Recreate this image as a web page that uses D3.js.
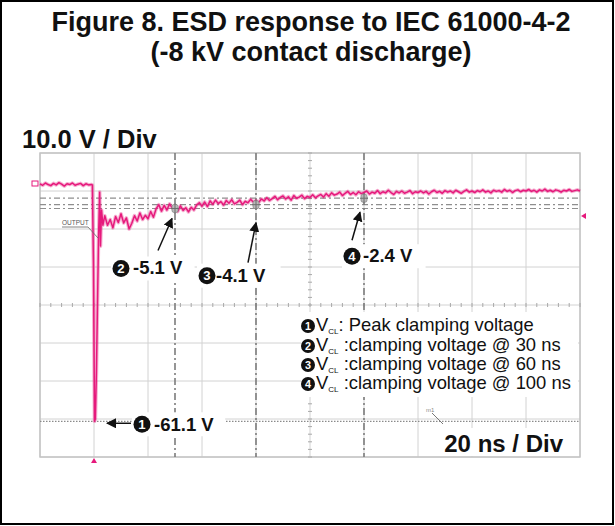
<!DOCTYPE html>
<html><head><meta charset="utf-8">
<script src="https://cdn.jsdelivr.net/npm/d3@7"></script>
<style>body{margin:0;background:#fff} svg{display:block}</style>
</head><body><svg id="c" width="615" height="526"></svg>
<script>
// ---------- data ----------
const titleLines = ["Figure 8. ESD response to IEC 61000-4-2", "(-8 kV contact discharge)"];
const voltsPerDivLabel = "10.0 V / Div";
const timePerDivLabel = "20 ns / Div";
const timeDomainNs = [-20, 180];      // 10 divisions x 20 ns
const voltDomain = [-70.5, 9.5];      // 8 divisions x 10 V
const xDivisions = 10;
const yDivisions = 8;

const preSpikeStartNs = -20;          // 1 ns spacing
const preSpikeV = [1.4, 1.0, 1.6, 1.2, 0.9, 1.5, 1.1, 1.7, 1.3, 0.8,
                   1.4, 1.2, 1.6, 1.0, 1.3, 1.5, 0.9, 1.4, 1.1, 1.2];

const spikeNs = [-0.6, -0.2, 0.2, 0.5, 0.9, 1.3, 1.7, 2.1, 2.4, 2.8, 3.3];
const spikeV  = [1.1, -20, -61.1, -60.5, -48, -30, -12, -0.8, -15, -5.5, -9.5];

const postSpikeStartNs = 4;           // 1 ns spacing, 4 .. 180 ns
const postSpikeV = [
  -7.0,-9.5,-8.0,-10.2,-7.2,-8.8,-6.5,-8.9,-7.6,-10.5,-9.0,-7.0,-8.4,-6.3,-8.0,-6.9,-7.8,
  -5.9,-7.4,-5.2,-4.1,-5.8,-4.3,-5.5,-3.9,-5.0,-4.6,-5.9,-4.4,-5.6,-4.9,-6.0,-4.8,-5.5,-4.2,-3.6,-4.5,
  -3.4,-4.6,-3.1,-4.0,-2.9,-3.8,-3.3,-4.2,-3.0,-3.7,-2.8,-3.9,-3.5,-2.9,-4.1,-3.2,-3.6,-2.7,-3.4,-3.0,
  -3.5,-2.6,-3.1,-2.3,-3.0,-2.5,-1.9,-2.8,-2.2,-1.8,-2.6,-2.0,-2.9,-1.7,-2.4,-2.1,-1.6,-2.5,-1.9,-2.2,
  -1.5,-2.3,-1.8,-1.4,-2.1,-1.2,-1.9,-1.0,-1.6,-1.3,-0.8,-1.7,-1.1,-0.6,-1.4,-0.9,-1.5,-0.7,-1.2,-0.9,
  -0.5,-1.3,-0.8,-1.1,-0.4,-1.2,-0.7,-1.0,-0.3,-0.9,-1.4,-0.6,-1.0,-0.5,-1.1,-0.8,-0.4,-1.2,-0.7,-0.9,
  -0.5,-1.0,-0.6,-1.3,-0.7,-0.3,-0.9,-0.6,-1.1,-0.4,-0.8,-0.5,-1.0,-0.3,-0.7,-1.1,-0.6,-0.2,-0.8,-0.5,
  -0.9,-0.4,-0.7,-0.2,-0.8,-0.5,-1.0,-0.3,-0.6,-0.4,-0.8,-0.1,-0.6,-0.3,-0.9,-0.4,-0.2,-0.7,-0.3,-0.5,
  -0.1,-0.6,-0.3,-0.8,-0.2,-0.5,0.0,-0.6,-0.3,-0.7,-0.2,-0.4,-0.8,-0.3,-0.5,-0.1,-0.6,-0.4,-0.2,-0.5
];

const cursorIds = [1, 2, 3, 4];
const cursorNs = [0, 30, 60, 100];
const cursorV = [-61.1, -5.1, -4.1, -2.4];
const cursorText = ["-61.1 V", "-5.1 V", "-4.1 V", "-2.4 V"];
const legendMain = "V";
const legendSub = "CL";
const legendRest = [": Peak clamping voltage", " :clamping voltage @ 30 ns",
                    " :clamping voltage @ 60 ns", " :clamping voltage @ 100 ns"];

// ---------- build ----------
const FONT = "Arial, 'Liberation Sans', Helvetica, sans-serif";
const PINK = "#e6197c";
const svg = d3.select("#c");
const plot = {l: 40, r: 580, t: 153, b: 457};

const x = d3.scaleLinear().domain(timeDomainNs).range([plot.l, plot.r]);
const y = d3.scaleLinear().domain(voltDomain).range([plot.b, plot.t]);
const xDiv = d3.scaleLinear().domain([0, xDivisions]).range([plot.l, plot.r]);
const yDiv = d3.scaleLinear().domain([0, yDivisions]).range([plot.t, plot.b]);

// outer frame
svg.append("rect").attr("x", 1).attr("y", 1).attr("width", 612).attr("height", 523)
  .attr("fill", "#fff").attr("stroke", "#000").attr("stroke-width", 2);

// title
svg.append("g").selectAll("text").data(titleLines).join("text")
  .attr("x", 311).attr("y", (d, i) => 31 + i * 30)
  .attr("text-anchor", "middle").attr("font-family", FONT)
  .attr("font-weight", "bold").attr("font-size", 27).attr("fill", "#111").text(d => d);

svg.append("text").attr("x", 22).attr("y", 148).attr("font-family", FONT)
  .attr("font-weight", "bold").attr("font-size", 25.5).attr("fill", "#111").text(voltsPerDivLabel);

// grid
const grid = svg.append("g");
grid.selectAll(".vx").data(d3.range(0, xDivisions + 1)).join("line")
  .attr("x1", d => xDiv(d)).attr("x2", d => xDiv(d)).attr("y1", plot.t).attr("y2", plot.b)
  .attr("stroke", "#d2d2d2").attr("stroke-width", 1);
grid.selectAll(".hy").data(d3.range(0, yDivisions + 1)).join("line")
  .attr("y1", d => yDiv(d)).attr("y2", d => yDiv(d)).attr("x1", plot.l).attr("x2", plot.r)
  .attr("stroke", "#d2d2d2").attr("stroke-width", 1);
grid.append("rect").attr("x", plot.l).attr("y", plot.t).attr("width", plot.r - plot.l)
  .attr("height", plot.b - plot.t).attr("fill", "none").attr("stroke", "#c4c4c4").attr("stroke-width", 1.5);

// center minor ticks
const cx = xDiv(xDivisions / 2), cy = yDiv(yDivisions / 2);
grid.selectAll(".tx").data(d3.range(0, xDivisions * 5 + 1)).join("line")
  .attr("x1", d => xDiv(d / 5)).attr("x2", d => xDiv(d / 5)).attr("y1", cy - 2).attr("y2", cy + 2)
  .attr("stroke", "#a8a8a8").attr("stroke-width", 1);
grid.selectAll(".ty").data(d3.range(0, yDivisions * 5 + 1)).join("line")
  .attr("y1", d => yDiv(d / 5)).attr("y2", d => yDiv(d / 5)).attr("x1", cx - 2).attr("x2", cx + 2)
  .attr("stroke", "#a8a8a8").attr("stroke-width", 1);

// cursors
const cur = svg.append("g");
cur.selectAll(".hc").data(cursorV.slice(1)).join("line")
  .attr("x1", plot.l).attr("x2", plot.r).attr("y1", d => y(d)).attr("y2", d => y(d))
  .attr("stroke", "#8e8e8e").attr("stroke-width", 1.2).attr("stroke-dasharray", "6,3,2,3");
cur.append("line").attr("x1", plot.l).attr("x2", plot.r).attr("y1", y(cursorV[0])).attr("y2", y(cursorV[0]))
  .attr("stroke", "#8a8a8a").attr("stroke-width", 1.2).attr("stroke-dasharray", "1.5,1.5");
cur.selectAll(".vc").data(cursorNs.slice(1)).join("line")
  .attr("x1", d => x(d)).attr("x2", d => x(d)).attr("y1", plot.t).attr("y2", plot.b)
  .attr("stroke", "#7c7c7c").attr("stroke-width", 1.6).attr("stroke-dasharray", "7,3,2,3");

// trace
const trace = [];
preSpikeV.forEach((v, i) => trace.push([preSpikeStartNs + i, v]));
spikeNs.forEach((t, i) => trace.push([t, spikeV[i]]));
postSpikeV.forEach((v, i) => trace.push([postSpikeStartNs + i, v]));
const line = d3.line().x(d => x(d[0])).y(d => y(d[1]));
svg.append("path").attr("d", line(trace)).attr("fill", "none").attr("stroke", PINK)
  .attr("stroke-width", 3.6).attr("stroke-opacity", 0.35).attr("stroke-linejoin", "round");
svg.append("path").attr("d", line(trace)).attr("fill", "none").attr("stroke", PINK)
  .attr("stroke-width", 1.5).attr("stroke-linejoin", "round");

// cursor intersection markers
svg.selectAll(".mk").data(cursorNs.slice(1).map((t, i) => [t, cursorV[i + 1]])).join("g")
  .attr("transform", d => `translate(${x(d[0])},${y(d[1])})`)
  .each(function () {
    const g = d3.select(this);
    g.append("rect").attr("x", -3).attr("y", -4).attr("width", 6).attr("height", 8).attr("rx", 2)
      .attr("fill", "#b9b9b9").attr("stroke", "#8a8a8a").attr("stroke-width", 0.8);
    g.append("line").attr("x1", -4).attr("x2", 4).attr("stroke", "#6e6e6e");
    g.append("line").attr("y1", -5).attr("y2", 5).attr("stroke", "#6e6e6e");
  });

// channel / trigger markers
svg.append("rect").attr("x", 32).attr("y", 181).attr("width", 6).attr("height", 5)
  .attr("fill", "none").attr("stroke", PINK).attr("stroke-width", 1);
svg.append("path").attr("d", `M${x(0)},${plot.b + 1} l-3,5 h6 z`).attr("fill", PINK);
svg.append("path").attr("d", `M${plot.r + 1},216 l5,-3 v6 z`).attr("fill", PINK);

// OUTPUT tag
svg.append("text").attr("x", 62).attr("y", 225).attr("font-family", FONT).attr("font-size", 6.5)
  .attr("fill", "#555").text("OUTPUT");
svg.append("path").attr("d", "M62,227 H88 L98,238").attr("fill", "none").attr("stroke", "#666").attr("stroke-width", 0.8);
svg.append("text").attr("x", 426).attr("y", 412).attr("font-family", FONT).attr("font-size", 6)
  .attr("fill", "#888").text("m1");
svg.append("path").attr("d", "M432,413 L443,424").attr("fill", "none").attr("stroke", "#777").attr("stroke-width", 1);

// arrow marker
svg.append("defs").append("marker").attr("id", "ah").attr("viewBox", "0 0 10 10")
  .attr("refX", 9).attr("refY", 5).attr("markerWidth", 10).attr("markerHeight", 10)
  .attr("markerUnits", "userSpaceOnUse").attr("orient", "auto")
  .append("path").attr("d", "M0,0 L10,5 L0,10 z").attr("fill", "#111");

function badge(g, cxp, cyp, r, n) {
  g.append("circle").attr("cx", cxp).attr("cy", cyp).attr("r", r).attr("fill", "#111");
  g.append("text").attr("x", cxp).attr("y", cyp + r * 0.55).attr("text-anchor", "middle")
    .attr("font-family", FONT).attr("font-weight", "bold").attr("font-size", r * 1.55)
    .attr("fill", "#fff").text(n);
}

// annotation layout (offsets from cursor point)
const annot = [
  {arrow: [37, 2, 13, 2], circ: [48, 3], txt: [60, 10]},
  {arrow: [-17, 42, -3, 10], circ: [-54, 60], txt: [-42, 66]},
  {arrow: [-8, 58, 0, 18], circ: [-49, 71], txt: [-40, 77]},
  {arrow: [-12, 42, -4, 14], circ: [-12, 58], txt: [-1, 64]}
];
const ann = svg.append("g");
cursorIds.forEach((id, i) => {
  const px = x(cursorNs[i]), py = y(cursorV[i]);
  const a = annot[i];
  const g = ann.append("g");
  const bx = px + a.circ[0] - 10, by = py + a.circ[1] - 12;
  const tw = cursorText[i].length * 9.6 + 26;
  g.append("rect").attr("x", bx).attr("y", by).attr("width", tw).attr("height", 24).attr("fill", "#fff");
  g.append("line").attr("x1", px + a.arrow[0]).attr("y1", py + a.arrow[1])
    .attr("x2", px + a.arrow[2]).attr("y2", py + a.arrow[3])
    .attr("stroke", "#111").attr("stroke-width", 1.5).attr("marker-end", "url(#ah)");
  badge(g, px + a.circ[0], py + a.circ[1], 8.5, id);
  g.append("text").attr("x", px + a.txt[0]).attr("y", py + a.txt[1]).attr("font-family", FONT)
    .attr("font-weight", "bold").attr("font-size", 18.5).attr("fill", "#111").text(cursorText[i]);
});

// legend
const lg = svg.append("g");
lg.append("rect").attr("x", 301).attr("y", 312).attr("width", 277).attr("height", 85).attr("fill", "#fff");
legendRest.forEach((s, i) => {
  const base = 331 + i * 19 + (i > 0 ? 1 : 0);
  badge(lg, 308, base - 5, 7, cursorIds[i]);
  const t = lg.append("text").attr("x", 316).attr("y", base).attr("font-family", FONT)
    .attr("font-size", 18.4).attr("fill", "#111");
  t.append("tspan").text(legendMain);
  t.append("tspan").attr("font-size", 8).attr("dy", 3).text(legendSub);
  t.append("tspan").attr("dy", -3).text(s);
});

// time/div label
svg.append("rect").attr("x", 436).attr("y", 428).attr("width", 142).attr("height", 28).attr("fill", "#fff");
svg.append("text").attr("x", 563).attr("y", 452).attr("text-anchor", "end").attr("font-family", FONT)
  .attr("font-weight", "bold").attr("font-size", 24).attr("fill", "#111").text(timePerDivLabel);
</script></body></html>
